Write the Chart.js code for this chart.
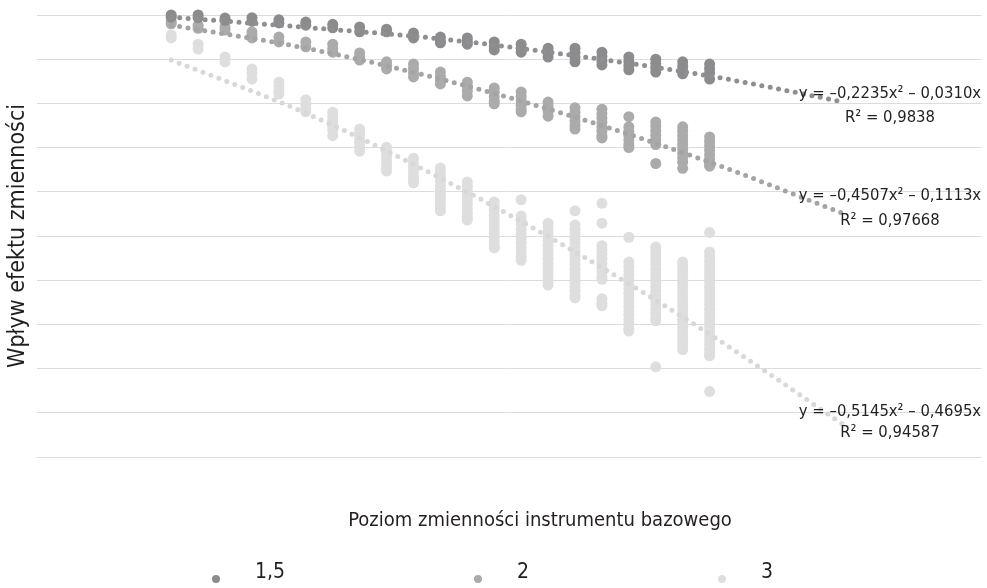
<!DOCTYPE html>
<html>
<head>
<meta charset="utf-8">
<script src="https://cdn.jsdelivr.net/npm/chart.js@4.4.1/dist/chart.umd.min.js"></script>
<style>
  html, body { margin: 0; padding: 0; background: #fff; overflow: hidden; }
  #wrap { position: relative; width: 987px; height: 588px; overflow: hidden; }
  #volChart { display: block; }
  #legend { position: absolute; left: 212px; top: 559px; display: flex; gap: 189px; align-items: center;
            font-family: 'Liberation Sans Narrow', 'DejaVu Sans Condensed', Lato, sans-serif; font-size: 21px; color: #231f20; }
  #legend .item { display: flex; align-items: center; gap: 35px; }
  #legend .dot { width: 8px; height: 8px; border-radius: 50%; margin-top: 16px; }
</style>
</head>
<body>
<div id="wrap">
  <canvas id="volChart" width="987" height="588"></canvas>
  <div id="legend"></div>
</div>
<script>
const fontStack = "'Liberation Sans Narrow', 'DejaVu Sans Condensed', Lato, sans-serif";

const seriesNames = ['1,5', '2', '3'];
const seriesColors = ['#8c8c8e', '#ababab', '#dedede'];
const trendColors = ['#8f8f91', '#a4a4a4', '#d8d8d8'];

const xTitle = 'Poziom zmienności instrumentu bazowego';
const yTitle = 'Wpływ efektu zmienności';

// poziomy zmienności (kolumny punktów)
const xLevels = [1, 2, 3, 4, 5, 6, 7, 8, 9, 10, 11, 12, 13, 14, 15, 16, 17, 18, 19, 20, 21];

// wartości dla każdego poziomu, seria 1,5
const values15 = [
  [0, -0.05], [0, -0.06], [-0.07, -0.12], [-0.06, -0.14], [-0.11, -0.18],
  [-0.16, -0.23], [-0.21, -0.29], [-0.27, -0.38], [-0.32, -0.38], [-0.41, -0.52],
  [-0.5, -0.58, -0.63], [-0.52, -0.6, -0.66], [-0.61, -0.7, -0.79], [-0.66, -0.75, -0.84],
  [-0.75, -0.85, -0.95], [-0.75, -0.85, -0.95, -1.06], [-0.84, -0.94, -1.04, -1.13],
  [-0.95, -1.05, -1.15, -1.24], [-1.0, -1.1, -1.2, -1.29], [-1.06, -1.16, -1.26, -1.33],
  [-1.11, -1.21, -1.31, -1.45]
];

// seria 2
const values2 = [
  [-0.15, -0.2], [-0.23, -0.3], [-0.27, -0.34], [-0.38, -0.45, -0.52], [-0.5, -0.61],
  [-0.61, -0.72], [-0.66, -0.76, -0.84], [-0.86, -0.94, -1.02], [-1.06, -1.14, -1.22],
  [-1.11, -1.21, -1.31, -1.4], [-1.29, -1.39, -1.49, -1.56], [-1.52, -1.62, -1.72, -1.83],
  [-1.65, -1.75, -1.85, -1.95, -2.01], [-1.74, -1.84, -1.94, -2.04, -2.14, -2.19],
  [-1.97, -2.07, -2.17, -2.29], [-2.1, -2.2, -2.3, -2.4, -2.5, -2.58],
  [-2.13, -2.23, -2.33, -2.43, -2.53, -2.63, -2.73, -2.78],
  [-2.3, -2.53, -2.63, -2.73, -2.83, -2.93, -3.0],
  [-2.42, -2.52, -2.62, -2.72, -2.82, -2.93, -3.36],
  [-2.53, -2.63, -2.73, -2.83, -2.93, -3.03, -3.13, -3.23, -3.33, -3.47],
  [-2.76, -2.86, -2.96, -3.06, -3.16, -3.26, -3.36, -3.42]
];

// seria 3
const values3 = [
  [-0.45, -0.52], [-0.66, -0.77], [-0.95, -1.06], [-1.22, -1.32, -1.45],
  [-1.52, -1.62, -1.72, -1.79], [-1.92, -2.02, -2.12, -2.19],
  [-2.2, -2.3, -2.4, -2.5, -2.6, -2.73], [-2.58, -2.68, -2.78, -2.88, -2.98, -3.08],
  [-2.99, -3.09, -3.19, -3.29, -3.39, -3.49, -3.53], [-3.24, -3.34, -3.44, -3.54, -3.64, -3.74, -3.8],
  [-3.46, -3.56, -3.66, -3.76, -3.86, -3.96, -4.06, -4.16, -4.26, -4.36, -4.43],
  [-3.78, -3.88, -3.98, -4.08, -4.18, -4.28, -4.38, -4.48, -4.58, -4.64],
  [-4.23, -4.33, -4.43, -4.53, -4.63, -4.73, -4.83, -4.93, -5.03, -5.13, -5.23, -5.27],
  [-4.18, -4.55, -4.65, -4.75, -4.85, -4.95, -5.05, -5.15, -5.25, -5.35, -5.45, -5.55],
  [-4.71, -4.81, -4.91, -5.01, -5.11, -5.21, -5.31, -5.41, -5.51, -5.61, -5.71, -5.81, -5.91, -6.01, -6.11],
  [-4.43, -4.75, -4.85, -4.95, -5.05, -5.15, -5.25, -5.35, -5.45, -5.55, -5.65, -5.75, -5.85, -5.95, -6.05, -6.15, -6.25, -6.35, -6.4],
  [-4.26, -4.71, -5.22, -5.32, -5.42, -5.52, -5.62, -5.72, -5.82, -5.92, -5.98, -6.42, -6.52, -6.58],
  [-5.03, -5.59, -5.69, -5.79, -5.89, -5.99, -6.09, -6.19, -6.29, -6.39, -6.49, -6.59, -6.69, -6.79, -6.89, -6.99, -7.09, -7.15],
  [-5.25, -5.35, -5.45, -5.55, -5.65, -5.75, -5.85, -5.95, -6.05, -6.15, -6.25, -6.35, -6.45, -6.55, -6.65, -6.75, -6.85, -6.92, -7.96],
  [-5.59, -5.69, -5.79, -5.89, -5.99, -6.09, -6.19, -6.29, -6.39, -6.49, -6.59, -6.69, -6.79, -6.89, -6.99, -7.09, -7.19, -7.29, -7.39, -7.49, -7.57],
  [-4.92, -5.36, -5.46, -5.56, -5.66, -5.76, -5.86, -5.96, -6.06, -6.16, -6.26, -6.36, -6.46, -6.56, -6.66, -6.76, -6.86, -6.96, -7.06, -7.16, -7.26, -7.36, -7.46, -7.56, -7.66, -7.71, -8.52]
];

// linie trendu (wielomianowe)
const trendX = [1, 6, 11, 16, 21, 26];
const trend15 = [-0.05, -0.28, -0.54, -0.92, -1.38, -1.97];
const trend2 = [-0.23, -0.75, -1.45, -2.31, -3.33, -4.5];
const trend3 = [-1.02, -2.22, -3.69, -5.36, -7.22, -9.28];

const equations = ['y = –0,2235x² – 0,0310x', 'y = –0,4507x² – 0,1113x', 'y = –0,5145x² – 0,4695x'];
const rSquared = ['R² = 0,9838', 'R² = 0,97668', 'R² = 0,94587'];
const labelX = 27.7;
const labelY = [[-1.78, -2.32], [-4.08, -4.65], [-8.97, -9.46]];

const toPoints = cols => cols.flatMap((ys, i) => ys.map(y => ({ x: xLevels[i], y: y })));
const toTrend = ys => trendX.map((x, i) => ({ x: x, y: ys[i] }));

// opisy linii trendu + tytuł osi X (w oryginale przesunięty w prawo)
const chartTexts = {
    id: 'chartTexts',
    afterDatasetsDraw(chart) {
        const { ctx, scales: { x, y } } = chart;
        ctx.save();
        ctx.fillStyle = '#231f20';
        ctx.textAlign = 'center';
        ctx.textBaseline = 'middle';
        ctx.font = '16.5px ' + fontStack;
        const px = x.getPixelForValue(labelX);
        equations.forEach((eq, i) => {
            ctx.fillText(eq, px, y.getPixelForValue(labelY[i][0]));
            ctx.fillText(rSquared[i], px, y.getPixelForValue(labelY[i][1]));
        });
        ctx.font = '20px ' + fontStack;
        ctx.fillText(xTitle, x.getPixelForValue(14.7), chart.chartArea.bottom + 64);
        ctx.restore();
    }
};

const trendSets = [trend15, trend2, trend3].map((t, i) => ({
    type: 'line',
    label: 'trend ' + seriesNames[i],
    data: toTrend(t),
    borderColor: trendColors[i],
    borderWidth: 5,
    borderDash: [0, 8.5],
    borderCapStyle: 'round',
    pointRadius: 0,
    cubicInterpolationMode: 'monotone',
    fill: false,
    clip: false,
    order: 0
}));

const pointSets = [values15, values2, values3].map((v, i) => ({
    type: 'scatter',
    label: seriesNames[i],
    data: toPoints(v),
    backgroundColor: seriesColors[i],
    pointRadius: 5.5,
    pointBorderWidth: 0,
    pointHoverRadius: 5.5,
    clip: false,
    order: i + 1
}));

new Chart(document.getElementById('volChart'), {
    type: 'scatter',
    data: { datasets: [...trendSets, ...pointSets] },
    options: {
        responsive: false,
        animation: false,
        layout: { padding: { top: 15, right: 0, left: 0, bottom: 131 } },
        plugins: {
            legend: { display: false },
            tooltip: { enabled: false }
        },
        scales: {
            x: {
                type: 'linear', min: -4, max: 31.1,
                display: false
            },
            y: {
                min: -10, max: 0,
                grid: { color: '#dcdcdc', lineWidth: 1, drawTicks: false },
                border: { display: false },
                ticks: { display: false, stepSize: 1 },
                title: {
                    display: true, text: yTitle,
                    color: '#231f20', font: { family: fontStack, size: 23 },
                    padding: { top: 4, bottom: 5 }
                }
            }
        }
    },
    plugins: [chartTexts]
});

const legend = document.getElementById('legend');
seriesNames.forEach((name, i) => {
    const item = document.createElement('div');
    item.className = 'item';
    const dot = document.createElement('span');
    dot.className = 'dot';
    dot.style.background = seriesColors[i];
    const txt = document.createElement('span');
    txt.textContent = name;
    item.appendChild(dot);
    item.appendChild(txt);
    legend.appendChild(item);
});
</script>
</body>
</html>
